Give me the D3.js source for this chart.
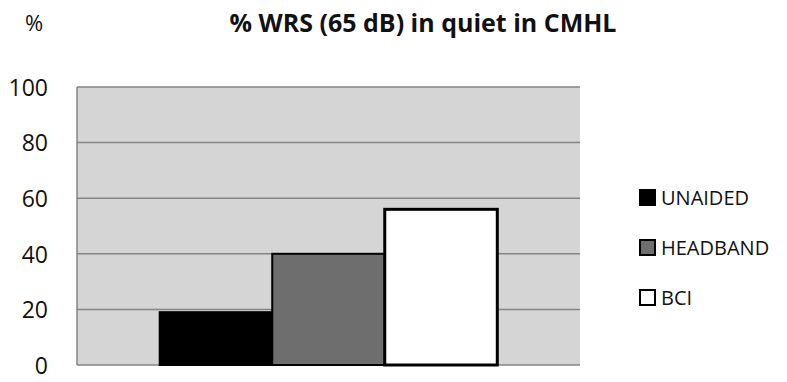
<!DOCTYPE html>
<html>
<head>
<meta charset="utf-8">
<script src="https://cdn.jsdelivr.net/npm/d3@7"></script>
<style>
  body { margin: 0; background: #fff; }
  text { font-family: "Open Sans", "Noto Sans", sans-serif; }
</style>
</head>
<body>
<div id="chart"></div>
<script>
const categories = ["WRS"];
const seriesNames = ["UNAIDED", "HEADBAND", "BCI"];
const seriesValues = [19, 40, 56];
const yTicks = [0, 20, 40, 60, 80, 100];
const seriesColors = ["#000000", "#6e6e6e", "#ffffff"];

const W = 787, H = 382;
const plot = { left: 77, right: 580, top: 87, bottom: 365 };

const svg = d3.select("#chart").append("svg")
  .attr("width", W).attr("height", H);

const y = d3.scaleLinear().domain([0, 100]).range([plot.bottom, plot.top]);
const x0 = d3.scaleBand().domain(categories).range([plot.left, plot.right]).paddingInner(0).paddingOuter(0.245);
const x1 = d3.scaleBand().domain(seriesNames).range([0, x0.bandwidth()]).padding(0);

// plot background
svg.append("rect")
  .attr("x", plot.left).attr("y", plot.top)
  .attr("width", plot.right - plot.left).attr("height", plot.bottom - plot.top)
  .attr("fill", "#d5d5d5");

// gridlines
svg.append("g")
  .selectAll("line").data(yTicks).join("line")
  .attr("x1", plot.left).attr("x2", plot.right)
  .attr("y1", d => y(d)).attr("y2", d => y(d))
  .attr("stroke", "#858585").attr("stroke-width", 1.5);

// left axis line
svg.append("line")
  .attr("x1", plot.left).attr("x2", plot.left)
  .attr("y1", plot.top).attr("y2", plot.bottom)
  .attr("stroke", "#858585").attr("stroke-width", 1.5);

// y axis labels
const yAxis = d3.axisLeft(y).tickValues(yTicks).tickSize(0).tickPadding(29);
const yg = svg.append("g").attr("transform", `translate(${plot.left},0)`).call(yAxis);
yg.select(".domain").remove();
yg.selectAll("text")
  .style("font-size", "23px").style("font-family", "'Open Sans', sans-serif")
  .attr("fill", "#111").attr("dy", "0.36em");

// bars
svg.append("g")
  .selectAll("rect").data(seriesValues).join("rect")
  .attr("x", (d, i) => x0(categories[0]) + x1(seriesNames[i]))
  .attr("y", d => y(d))
  .attr("width", x1.bandwidth())
  .attr("height", d => y(0) - y(d))
  .attr("fill", (d, i) => seriesColors[i])
  .attr("stroke", "#000")
  .attr("stroke-width", (d, i) => i === 2 ? 3 : 2);

// title
svg.append("text")
  .attr("x", 423).attr("y", 32)
  .attr("text-anchor", "middle")
  .style("font-size", "25px").style("font-weight", "bold")
  .attr("fill", "#111")
  .text("% WRS (65 dB) in quiet in CMHL");

svg.append("text")
  .attr("x", 34).attr("y", 31)
  .attr("text-anchor", "middle")
  .style("font-size", "22px")
  .attr("fill", "#111")
  .text("%");

// legend
const legend = svg.append("g").attr("transform", "translate(639,0)");
const items = legend.selectAll("g").data(seriesNames).join("g")
  .attr("transform", (d, i) => `translate(0,${198 + i * 50})`);
items.append("rect")
  .attr("x", 1).attr("y", -8).attr("width", 15).attr("height", 15)
  .attr("fill", (d, i) => seriesColors[i])
  .attr("stroke", "#000").attr("stroke-width", 2);
items.append("text")
  .attr("x", 22).attr("y", 0).attr("dy", "0.36em")
  .style("font-size", "20px")
  .attr("fill", "#111")
  .text(d => d);
</script>
</body>
</html>
